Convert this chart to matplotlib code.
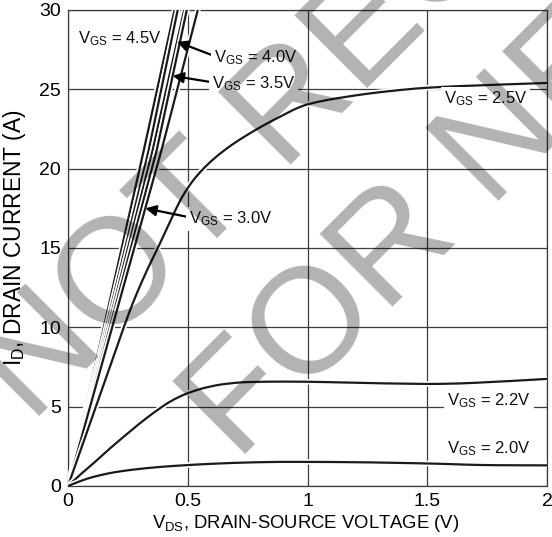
"""Output characteristics (I_D vs V_DS) datasheet figure with 'not recommended' watermark."""
import matplotlib
matplotlib.use("Agg")
import matplotlib.pyplot as plt
import matplotlib.patheffects as pe
import numpy as np

plt.rcParams["font.family"] = ["Liberation Sans", "DejaVu Sans"]
plt.rcParams["mathtext.fontset"] = "custom"
plt.rcParams["mathtext.rm"] = "Liberation Sans"
plt.rcParams["mathtext.it"] = "Liberation Sans:italic"
plt.rcParams["mathtext.bf"] = "Liberation Sans:bold"

# steep (linear-region) curves: V_DS where I_D reaches 21.2 A and 30 A
steep_vgs = ["4.5V", "", "4.0V", "3.5V", "3.0V"]
steep_id = [0, 21.2, 30]
steep_vds = [
    [0, 0.317, 0.445],
    [0, 0.3375, 0.458],
    [0, 0.354, 0.485],
    [0, 0.371, 0.496],
    [0, 0.391, 0.542],
]

vds_25 = [0, 0.1, 0.2, 0.27, 0.33, 0.378, 0.43, 0.48, 0.53, 0.6, 0.67, 0.74,
          0.85, 1.0, 1.15, 1.32, 1.5, 1.75, 2.0]
id_25 = [0, 4.3, 8.6, 11.5, 13.6, 15.1, 16.8, 18.3, 19.4, 20.5, 21.35, 22.05,
         23.0, 24.05, 24.5, 24.85, 25.1, 25.27, 25.4]

vds_22 = [0, 0.05, 0.1, 0.17, 0.24, 0.3, 0.37, 0.43, 0.5, 0.58, 0.65, 0.75,
          0.9, 1.0, 1.2, 1.4, 1.5, 1.6, 1.8, 2.0]
id_22 = [0, 0.7, 1.35, 2.3, 3.2, 3.95, 4.75, 5.35, 5.85, 6.22, 6.42, 6.55,
         6.58, 6.57, 6.5, 6.45, 6.43, 6.45, 6.58, 6.75]

vds_20 = [0, 0.05, 0.1, 0.2, 0.3, 0.4, 0.5, 0.6, 0.7, 0.8, 0.9, 1.0,
          1.2, 1.4, 1.5, 1.6, 1.7, 1.8, 2.0]
id_20 = [0, 0.3, 0.55, 0.88, 1.08, 1.22, 1.32, 1.4, 1.46, 1.5, 1.52, 1.52,
         1.5, 1.45, 1.42, 1.38, 1.33, 1.31, 1.3]

x_ticks = [0, 0.5, 1, 1.5, 2]
x_ticklabels = ["0", "0.5", "1", "1.5", "2"]
y_ticks = [0, 5, 10, 15, 20, 25, 30]

LINE = "#1a1a1a"
GRID = "#3c3c3c"
halo = [pe.Stroke(linewidth=4, foreground="white"), pe.Normal()]


def smooth(x, y, n=300):
    """Monotone cubic (PCHIP) through the read-off points, so curves have no kinks."""
    x = np.asarray(x, float)
    y = np.asarray(y, float)
    h = np.diff(x)
    d = np.diff(y) / h
    m = np.zeros_like(y)
    for k in range(1, len(x) - 1):
        if d[k - 1] * d[k] > 0:
            w1 = 2 * h[k] + h[k - 1]
            w2 = h[k] + 2 * h[k - 1]
            m[k] = (w1 + w2) / (w1 / d[k - 1] + w2 / d[k])
    m[0], m[-1] = d[0], d[-1]
    xn = np.linspace(x[0], x[-1], n)
    i = np.clip(np.searchsorted(x, xn) - 1, 0, len(h) - 1)
    t = (xn - x[i]) / h[i]
    yn = (y[i] * (2 * t**3 - 3 * t**2 + 1) + h[i] * m[i] * (t**3 - 2 * t**2 + t)
          + y[i + 1] * (-2 * t**3 + 3 * t**2) + h[i] * m[i + 1] * (t**3 - t**2))
    return xn, yn


W, H = 552, 537
fig = plt.figure(figsize=(W / 100, H / 100), dpi=100)
ax = fig.add_axes([68 / W, 51 / H, 479 / W, 476 / H])
ax.set_xlim(0, 2)
ax.set_ylim(0, 30)
ax.set_xticks(x_ticks, x_ticklabels)
ax.set_yticks(y_ticks)
ax.tick_params(length=0, pad=5, labelsize=14)
ax.grid(True, color=GRID, linewidth=0.9)
ax.set_axisbelow(True)
for s in ax.spines.values():
    s.set_color(GRID)
    s.set_linewidth(0.9)

for vds in steep_vds:
    ax.plot(vds, steep_id, color=LINE, lw=1.6, path_effects=halo, zorder=3)
for vds, ids in [(vds_25, id_25), (vds_22, id_22), (vds_20, id_20)]:
    xs, ys = smooth(vds, ids)
    ax.plot(xs, ys, color=LINE, lw=1.6, path_effects=halo, zorder=3)

lab = dict(fontsize=12, color="#111111", va="baseline", ha="left", zorder=5)
box = dict(facecolor="white", edgecolor="none", pad=2)

ax.text(0.04, 27.9, r"V$_{\mathrm{GS}}$ = " + steep_vgs[0], **lab)
# arrowed labels: (curve index, I_D at arrow tip, text x, text baseline y)
arrowed = [(2, 28.0, 0.609, 26.7), (3, 25.85, 0.600, 25.04), (4, 17.5, 0.506, 16.53)]
for i, tip_id, tx, ty in arrowed:
    tip_x = np.interp(tip_id, steep_id, steep_vds[i])
    ax.annotate(r"V$_{\mathrm{GS}}$ = " + steep_vgs[i], xy=(tip_x, tip_id),
                xytext=(tx, ty), bbox=box,
                arrowprops=dict(arrowstyle="-|>", color="black", lw=1.6,
                                mutation_scale=16, shrinkA=0, shrinkB=0,
                                relpos=(0, 0.6)),
                **lab)

ax.text(1.568, 24.09, r"V$_{\mathrm{GS}}$ = 2.5V", bbox=box, **lab)
ax.text(1.583, 5.08, r"V$_{\mathrm{GS}}$ = 2.2V", bbox=box, **lab)
ax.text(1.583, 2.06, r"V$_{\mathrm{GS}}$ = 2.0V", bbox=box, **lab)

# axis titles as figure texts, sized so they span what they span in the original
xlab = fig.text(306 / W, 1 - 523 / H, r"V$_{\mathrm{DS}}$, DRAIN-SOURCE VOLTAGE (V)",
                fontsize=13, ha="center", va="center")
ylab = fig.text(15 / W, 1 - 238 / H, r"I$_{\mathrm{D}}$, DRAIN CURRENT (A)",
                fontsize=13, ha="center", va="center", rotation=90)
fig.canvas.draw()
r = fig.canvas.get_renderer()
xlab.set_fontsize(13 * 307 / xlab.get_window_extent(r).width)
ylab.set_fontsize(13 * 257 / ylab.get_window_extent(r).height)

# watermark laid over everything, translucent
fig.text(617 / W, 1 + 95 / H, "NOT RECOMMENDED\nFOR NEW DESIGN",
         fontsize=108, rotation=45, rotation_mode="anchor", ha="center",
         va="center", multialignment="center", linespacing=1.3,
         color="black", alpha=0.3, zorder=10)

fig.savefig("out.png", dpi=100)
